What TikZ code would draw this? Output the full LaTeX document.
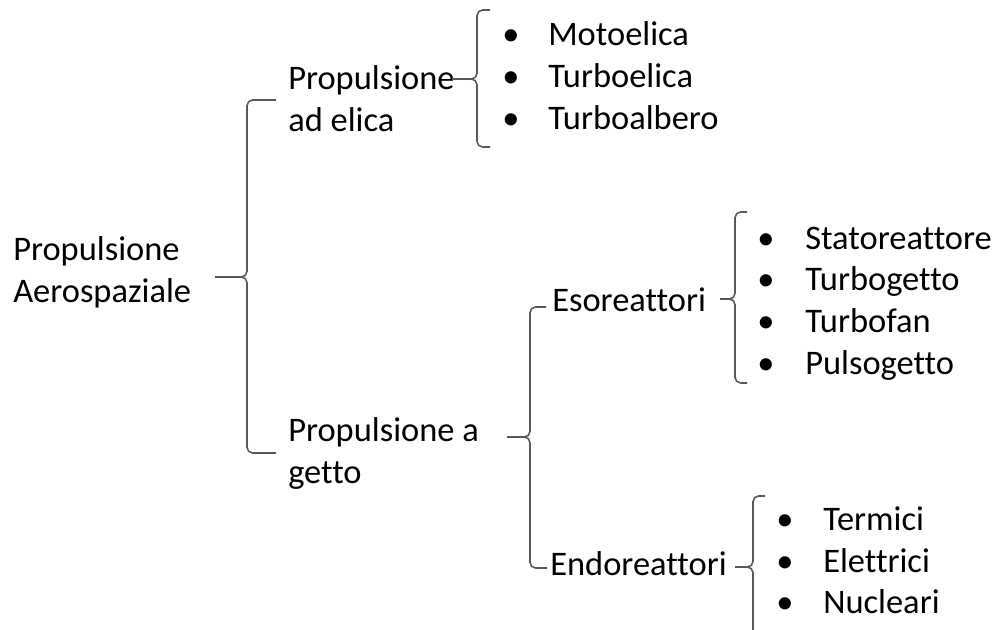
\documentclass[tikz,border=0pt]{standalone}
\usepackage{fontspec}
\setmainfont{Carlito}[Ligatures=NoCommon]
\usepackage{tikz}
\usetikzlibrary{positioning, calc}

\tikzset{
    txt/.style={font=\fontsize{24.5}{29.9}\selectfont, inner sep=0pt, align=left, anchor=base west},
    bul/.style={font=\fontsize{24.5}{29.9}\selectfont, inner sep=0pt, anchor=base},
    brace/.style={draw=black!65, line width=1.1pt, rounded corners=4pt}
}

\begin{document}
\begin{tikzpicture}[x=0.025cm, y=-0.025cm]
    \clip (0,0) rectangle (996,630);

    % Root (base = last line)
    \node[txt] (root) at (13,303) {Propulsione\\Aerospaziale};

    % Second level
    \node[txt] (elica) at (288,132) {Propulsione\\ad elica};
    \node[txt] (getto) at (288,484) {Propulsione a\\getto};

    % Third level
    \node[txt] (eso) at (552,312) {Esoreattori};
    \node[txt] (endo) at (550,575) {Endoreattori};

    % Items: propulsione ad elica
    \node[txt] (moto) at (548,46) {Motoelica};
    \node[txt] (turboel) at (548,88) {Turboelica};
    \node[txt] (turboal) at (548,130) {Turboalbero};
    \foreach \y in {46,88,130}
        \node[bul] at (511,\y) {•};

    % Items: esoreattori
    \node[txt] (stato) at (805,250) {Statoreattore};
    \node[txt] (turbog) at (805,291) {Turbogetto};
    \node[txt] (turbof) at (805,333) {Turbofan};
    \node[txt] (pulso) at (805,374) {Pulsogetto};
    \foreach \y in {250,291,333,374}
        \node[bul] at (766,\y) {•};

    % Items: endoreattori
    \node[txt] (term) at (823,530) {Termici};
    \node[txt] (elet) at (823,572) {Elettrici};
    \node[txt] (nucl) at (823,613) {Nucleari};
    \foreach \y in {530,572,613}
        \node[bul] at (785,\y) {•};

    % Brace tips
    \coordinate (tip0) at (215,277);
    \coordinate (tip1) at (452,79);
    \coordinate (tip2) at (507,437);
    \coordinate (tip3) at (720,299);
    \coordinate (tip4) at (735,567);

    % Braces
    \draw[brace] (276,100) -- (247,100) -- (247,277) -- (tip0);
    \draw[brace] (tip0) -- (247,277) -- (247,453) -- (276,453);

    \draw[brace] (490,10) -- (477,10) -- (477,79) -- (tip1);
    \draw[brace] (tip1) -- (477,79) -- (477,147) -- (490,147);

    \draw[brace] (546,307) -- (530,307) -- (530,437) -- (tip2);
    \draw[brace] (tip2) -- (530,437) -- (530,568) -- (547,568);

    \draw[brace] (747,212) -- (735,212) -- (735,299) -- (tip3);
    \draw[brace] (tip3) -- (735,299) -- (735,383) -- (747,383);

    \draw[brace] (765,496) -- (753,496) -- (753,567) -- (tip4);
    \draw[brace] (tip4) -- (753,567) -- (753,638) -- (765,638);
\end{tikzpicture}
\end{document}
